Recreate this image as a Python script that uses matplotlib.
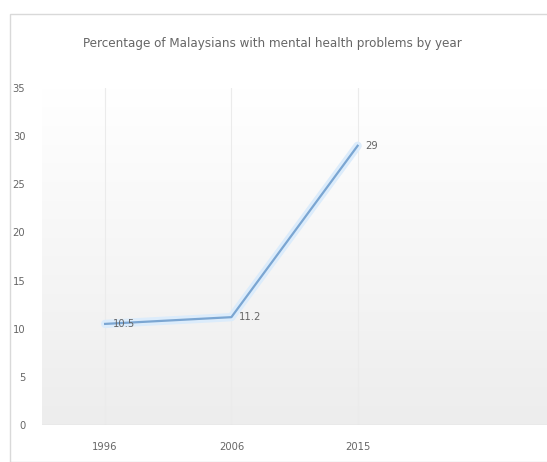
import numpy as np
import matplotlib
matplotlib.use("Agg")
from matplotlib import pyplot as plt
from matplotlib.patches import Rectangle

years = ["1996", "2006", "2015", ""]
percent = [10.5, 11.2, 29]
labels = ["10.5", "11.2", "29"]
yticks = [0, 5, 10, 15, 20, 25, 30, 35]

plt.rcParams['font.family'] = ['DejaVu Sans']
plt.rcParams['font.stretch'] = 'condensed'

fig = plt.figure(figsize=(5.47, 4.62), dpi=100)
fig.patches.append(Rectangle((10/547, 0), 1, 1 - 14/462, transform=fig.transFigure,
                             fill=False, edgecolor='#d9d9d9', lw=1.0))
ax = fig.add_axes([42/547, 1 - 425/462, 505/547, (425 - 88)/462])

# background gradient, white at top to light gray at bottom
grad = np.linspace(0, 1, 256).reshape(-1, 1)
ax.imshow(grad, extent=[0, 1, 0, 1], transform=ax.transAxes, aspect='auto',
          cmap=matplotlib.colors.LinearSegmentedColormap.from_list('g', ['#ffffff', '#ededed']),
          origin='upper', zorder=0)

x = np.arange(len(years))
for xi in x[:3]:
    ax.axvline(xi, color='#ebebeb', lw=0.8, zorder=1)
ax.axhline(0, color='#d9d9d9', lw=1.0, zorder=1)

ax.plot(x[:3], percent, color='#dcecfb', lw=6, solid_capstyle='round', zorder=2)
ax.plot(x[:3], percent, color='#7ba6d2', lw=1.6, zorder=3)
for xi, v, t in zip(x[:3], percent, labels):
    ax.text(xi + 0.06, v, t, fontsize=8, color='#666666', va='center', ha='left', zorder=4)

ax.set_xlim(-0.5, 3.5)
ax.set_ylim(0, 35)
ax.set_yticks(yticks)
ax.set_xticks(x[:3])
ax.set_xticklabels(years[:3])
ax.tick_params(length=0, labelsize=8, labelcolor='#666666')
ax.tick_params(axis='y', pad=12)
ax.tick_params(axis='x', pad=12)
for s in ax.spines.values():
    s.set_visible(False)

fig.text(272/547, 1 - 43/462, "Percentage of Malaysians with mental health problems by year",
         ha='center', va='center', fontsize=9.5, color='#666666')

fig.savefig("out.png", dpi=100)
